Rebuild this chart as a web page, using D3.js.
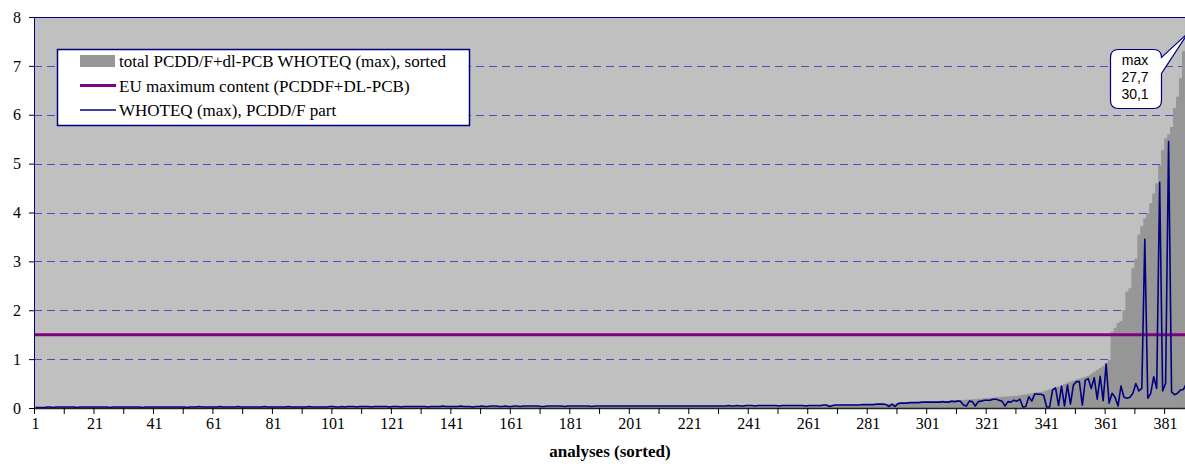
<!DOCTYPE html>
<html>
<head>
<meta charset="utf-8">
<script src="https://cdn.jsdelivr.net/npm/d3@7"></script>
<style>
  body { margin: 0; background: #fff; }
  svg { display: block; }
</style>
</head>
<body>
<div id="chart"></div>
<script>
// total PCDD/F + dl-PCB WHOTEQ (max), sorted ascending (analyses 1..390)
var totalTeq = [
  .01,.01,.01,.01,.02,.02,.02,.02,.02,.02,
  .02,.02,.02,.02,.02,.02,.02,.02,.02,.02,
  .02,.02,.02,.02,.02,.02,.02,.02,.02,.02,
  .02,.02,.02,.02,.02,.02,.02,.02,.02,.02,
  .02,.02,.02,.02,.02,.02,.02,.02,.02,.02,
  .03,.03,.03,.03,.03,.03,.03,.03,.03,.03,
  .03,.03,.03,.03,.03,.03,.03,.03,.03,.03,
  .03,.03,.03,.03,.03,.03,.03,.03,.03,.03,
  .03,.03,.03,.03,.03,.03,.03,.03,.03,.03,
  .03,.03,.03,.03,.03,.03,.03,.03,.03,.03,
  .03,.03,.03,.03,.03,.03,.03,.03,.03,.03,
  .03,.03,.03,.03,.03,.03,.03,.03,.03,.03,
  .03,.03,.03,.03,.03,.03,.03,.03,.03,.03,
  .04,.04,.04,.04,.04,.04,.04,.04,.04,.04,
  .04,.04,.04,.04,.04,.04,.04,.04,.04,.04,
  .04,.04,.04,.04,.04,.04,.04,.04,.04,.04,
  .04,.04,.04,.04,.04,.04,.04,.04,.04,.04,
  .04,.04,.04,.04,.04,.04,.04,.04,.04,.04,
  .04,.04,.04,.04,.04,.04,.04,.04,.04,.04,
  .05,.05,.05,.05,.05,.05,.05,.05,.05,.05,
  .05,.05,.05,.05,.05,.05,.05,.05,.05,.05,
  .05,.05,.05,.05,.05,.05,.05,.05,.05,.05,
  .05,.05,.05,.05,.05,.05,.05,.05,.05,.05,
  .05,.05,.05,.05,.05,.05,.05,.05,.05,.05,
  .05,.05,.05,.05,.05,.05,.05,.05,.05,.05,
  .06,.06,.06,.06,.06,.06,.06,.06,.06,.06,
  .06,.06,.06,.06,.06,.06,.06,.06,.06,.06,
  .07,.07,.07,.07,.07,.07,.07,.07,.07,.07,
  .07,.07,.07,.08,.08,.08,.08,.09,.09,.09,
  .10,.10,.10,.11,.11,.11,.12,.12,.12,.13,
  .13,.13,.13,.14,.14,.14,.14,.15,.15,.15,
  .16,.16,.16,.17,.17,.18,.18,.19,.19,.20,
  .20,.21,.21,.22,.22,.23,.23,.24,.24,.25,
  .25,.26,.27,.28,.29,.30,.31,.32,.33,.34,
  .36,.38,.40,.42,.44,.46,.49,.52,.54,.56,
  .58,.60,.62,.64,.66,.70,.74,.78,.82,.86,
  .92,.98,1.56,1.64,1.74,1.78,2.00,2.38,2.45,2.86,
  3.06,3.55,3.72,3.88,3.98,4.19,4.39,4.60,4.97,5.28,
  5.52,5.60,5.75,6.14,6.37,6.75,7.30,8.60,12.40,30.10
]

// WHOTEQ (max), PCDD/F part, same order
var pcddfTeq = [
  .01,.01,.01,.01,.02,.02,.01,.02,.02,.02,
  .02,.02,.02,.02,.01,.02,.02,.02,.02,.02,
  .02,.02,.02,.02,.02,.01,.02,.02,.02,.02,
  .02,.02,.02,.02,.02,.02,.01,.02,.02,.02,
  .02,.02,.02,.02,.02,.02,.02,.02,.02,.02,
  .02,.01,.02,.02,.02,.03,.02,.02,.02,.02,
  .02,.02,.03,.02,.02,.02,.02,.02,.03,.02,
  .02,.02,.02,.02,.02,.02,.02,.03,.02,.02,
  .02,.02,.02,.02,.02,.03,.02,.02,.02,.02,
  .02,.02,.03,.02,.02,.02,.02,.02,.02,.03,
  .03,.02,.02,.03,.02,.03,.03,.03,.02,.03,
  .03,.03,.03,.02,.03,.03,.03,.03,.03,.02,
  .03,.03,.03,.02,.03,.03,.03,.03,.03,.03,
  .03,.03,.02,.03,.03,.03,.03,.04,.03,.03,
  .03,.03,.03,.04,.03,.03,.03,.02,.03,.03,
  .04,.03,.03,.04,.04,.04,.03,.03,.04,.03,
  .03,.04,.04,.03,.04,.04,.04,.04,.04,.04,
  .03,.03,.04,.04,.04,.04,.04,.04,.03,.04,
  .04,.04,.04,.04,.04,.04,.04,.03,.04,.04,
  .04,.04,.04,.04,.04,.04,.04,.04,.04,.04,
  .04,.04,.04,.04,.04,.04,.04,.04,.04,.04,
  .04,.04,.04,.04,.04,.04,.04,.04,.04,.04,
  .04,.04,.04,.04,.04,.04,.04,.04,.04,.04,
  .04,.04,.04,.05,.04,.04,.05,.04,.04,.05,
  .05,.05,.04,.05,.05,.05,.05,.05,.05,.05,
  .04,.05,.05,.05,.05,.05,.05,.05,.05,.04,
  .05,.05,.05,.05,.05,.06,.06,.03,.05,.06,
  .06,.06,.06,.06,.06,.06,.06,.06,.07,.07,
  .07,.07,.07,.08,.08,.08,.07,.03,.08,.03,
  .09,.10,.10,.10,.11,.11,.11,.11,.12,.12,
  .12,.12,.12,.12,.12,.13,.12,.12,.14,.13,
  .14,.14,.06,.04,.14,.13,.04,.13,.14,.16,
  .16,.16,.18,.18,.16,.14,.04,.13,.12,.16,
  .14,.18,.02,.03,.23,.14,.29,.28,.28,.26,
  .02,.02,.37,.41,.05,.45,.04,.47,.08,.47,
  .54,.54,.06,.57,.60,.40,.62,.18,.65,.15,
  .90,.10,.30,.22,.04,.45,.22,.20,.22,.30,
  .50,.35,.40,3.45,.20,.30,.64,.40,4.62,.35,
  .50,5.45,.33,.27,.30,.37,.38,.50,1.20,27.70
]

var euLimit = 1.5
var yTickValues = [0, 1, 2, 3, 4, 5, 6, 7, 8]
var xLabelStep = 20
var xTickStep = 10
var legendLabels = ["total PCDD/F+dl-PCB WHOTEQ (max), sorted", "EU maximum content (PCDDF+DL-PCB)", "WHOTEQ (max), PCDD/F part"]
var calloutLines = ["max", "27,7", "30,1"]

var width = 1185, height = 475
var serif = "'Liberation Serif', 'Times New Roman', serif"
var n = totalTeq.length
var step = 2.974
var plotLeft = 34, plotTop = 17, plotBottom = 408
var plotRight = plotLeft + n * step

var data = totalTeq.map(function(v, i){ return {i: i + 1, total: v, part: pcddfTeq[i]} })

var svg = d3.select("#chart").append("svg")
    .attr("width", width)
    .attr("height", height)

var x = d3.scaleBand()
    .domain(data.map(function(d){ return d.i }))
    .range([plotLeft, plotRight])
    .padding(0)

// same axis as a continuous scale, used for the tick marks between categories
var xEdge = d3.scaleLinear().domain([0, n]).range([plotLeft, plotRight])

var y = d3.scaleLinear().domain([0, 8]).range([plotBottom, plotTop])

svg.append("clipPath").attr("id", "plot-clip")
  .append("rect")
    .attr("x", plotLeft).attr("y", plotTop)
    .attr("width", plotRight - plotLeft).attr("height", plotBottom - plotTop)

// plot area background
svg.append("rect")
    .attr("x", plotLeft).attr("y", plotTop)
    .attr("width", plotRight - plotLeft).attr("height", plotBottom - plotTop)
    .attr("fill", "#c0c0c0")

// dashed gridlines
svg.append("g")
  .selectAll("line")
  .data(yTickValues.filter(function(v){ return v > 0 && v < 8 }))
  .enter().append("line")
    .attr("x1", plotLeft).attr("x2", plotRight)
    .attr("y1", function(d){ return Math.round(y(d)) + 0.5 })
    .attr("y2", function(d){ return Math.round(y(d)) + 0.5 })
    .attr("stroke", "#4b4bc3")
    .attr("stroke-dasharray", "8,5")

var plot = svg.append("g").attr("clip-path", "url(#plot-clip)")

// sorted totals as touching columns
plot.append("g")
  .selectAll("rect")
  .data(data)
  .enter().append("rect")
    .attr("x", function(d){ return x(d.i) })
    .attr("y", function(d){ return y(d.total) })
    .attr("width", x.bandwidth() + 0.5)
    .attr("height", function(d){ return plotBottom - y(d.total) })
    .attr("fill", "#969696")

// EU maximum content
plot.append("line")
    .attr("x1", plotLeft).attr("x2", plotRight)
    .attr("y1", y(euLimit)).attr("y2", y(euLimit))
    .attr("stroke", "#800080")
    .attr("stroke-width", 3)

// PCDD/F part
plot.append("path")
    .datum(data)
    .attr("fill", "none")
    .attr("stroke", "#000080")
    .attr("stroke-width", 1.6)
    .attr("stroke-linejoin", "round")
    .attr("d", d3.line()
        .x(function(d){ return x(d.i) + x.bandwidth() / 2 })
        .y(function(d){ return y(d.part) }))

// plot border top
svg.append("line")
    .attr("x1", plotLeft).attr("x2", plotRight)
    .attr("y1", plotTop + 0.5).attr("y2", plotTop + 0.5)
    .attr("stroke", "#000080")

// y axis
var yAxis = svg.append("g")
    .attr("transform", "translate(" + plotLeft + ",0)")
    .call(d3.axisLeft(y).tickValues(yTickValues).tickSize(5).tickSizeOuter(0).tickPadding(8))
yAxis.select(".domain").attr("stroke", "#000080")
yAxis.selectAll("text").attr("font-family", serif).attr("font-size", "16px").attr("fill", "#000")

// x axis: tick marks every 10 analyses
var xTicks = svg.append("g")
    .attr("transform", "translate(0," + plotBottom + ")")
    .call(d3.axisBottom(xEdge).tickValues(d3.range(0, n + 1, xTickStep)).tickSize(6).tickSizeOuter(0).tickFormat(""))
xTicks.select(".domain").attr("stroke", "#222").attr("stroke-width", 1.5)

// x axis: labels every 20 analyses, centred on their column
var xLabels = svg.append("g")
    .attr("transform", "translate(0," + plotBottom + ")")
    .call(d3.axisBottom(x).tickValues(d3.range(1, n + 1, xLabelStep)).tickSize(0).tickPadding(10))
xLabels.select(".domain").remove()
xLabels.selectAll("text").attr("font-family", serif).attr("font-size", "16px").attr("fill", "#000")

svg.append("text")
    .attr("x", 610).attr("y", 457)
    .attr("text-anchor", "middle")
    .attr("font-family", serif)
    .attr("font-size", "17px")
    .attr("font-weight", "bold")
    .text("analyses (sorted)")

// legend
var legend = svg.append("g")
legend.append("rect")
    .attr("x", 57.5).attr("y", 49.5)
    .attr("width", 412).attr("height", 76)
    .attr("fill", "#fff")
    .attr("stroke", "#000080")
    .attr("stroke-width", 1.5)

var items = legend.selectAll("g.item")
  .data(legendLabels)
  .enter().append("g")
    .attr("class", "item")
    .attr("transform", function(d, i){ return "translate(80," + (61 + i * 24.5) + ")" })

items.each(function(d, i){
  var g = d3.select(this)
  if (i == 0) {
    g.append("rect").attr("x", 0).attr("y", -6).attr("width", 35).attr("height", 12).attr("fill", "#969696")
  } else {
    g.append("line").attr("x1", 0).attr("x2", 36).attr("y1", 0).attr("y2", 0)
      .attr("stroke", i == 1 ? "#800080" : "#000080")
      .attr("stroke-width", i == 1 ? 3 : 1.6)
  }
  g.append("text")
    .attr("x", 39).attr("y", 6)
    .attr("font-family", serif)
    .attr("font-size", "17px")
    .text(d)
})

// callout for the maximum
var callout = svg.append("g")
var cx0 = 1110.5, cy0 = 49.5, cx1 = 1161.5, cy1 = 108.5, r = 8
callout.append("path")
    .attr("d", "M" + (cx0 + r) + "," + cy0 +
      " H" + (cx1 - r) + " Q" + cx1 + "," + cy0 + " " + cx1 + "," + (cy0 + r) +
      " L1188,33 L" + cx1 + "," + (cy0 + 24) +
      " V" + (cy1 - r) + " Q" + cx1 + "," + cy1 + " " + (cx1 - r) + "," + cy1 +
      " H" + (cx0 + r) + " Q" + cx0 + "," + cy1 + " " + cx0 + "," + (cy1 - r) +
      " V" + (cy0 + r) + " Q" + cx0 + "," + cy0 + " " + (cx0 + r) + "," + cy0 + " Z")
    .attr("fill", "#fff")
    .attr("stroke", "#000080")
    .attr("stroke-width", 1.2)

callout.selectAll("text")
  .data(calloutLines)
  .enter().append("text")
    .attr("x", 1135)
    .attr("y", function(d, i){ return 65 + i * 17 })
    .attr("text-anchor", "middle")
    .attr("font-family", "'Liberation Sans', Arial, sans-serif")
    .attr("font-size", "14px")
    .text(function(d){ return d })
</script>
</body>
</html>
